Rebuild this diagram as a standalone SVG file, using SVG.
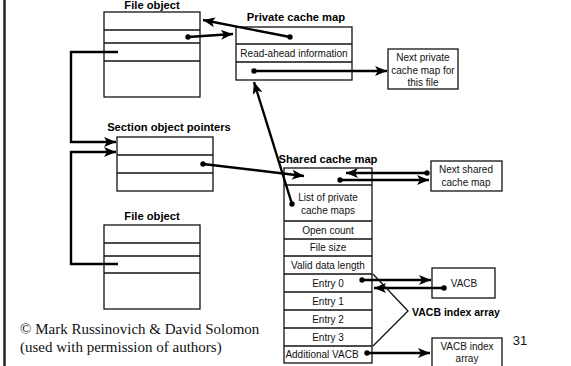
<svg xmlns="http://www.w3.org/2000/svg" width="571" height="366" viewBox="0 0 571 366">
<style>
.box{fill:#fff;stroke:#111;stroke-width:1.3}
.row{stroke:#111;stroke-width:1.3}
.title{font-family:"Liberation Sans",Arial,sans-serif;font-weight:bold;font-size:11.2px;fill:#000;text-anchor:middle}
.t{font-family:"Liberation Sans",Arial,sans-serif;font-size:10px;fill:#111;text-anchor:middle}
.lbl{font-family:"Liberation Sans",Arial,sans-serif;font-weight:bold;font-size:10.5px;fill:#000}
.ser{font-family:"Liberation Serif","Times New Roman",serif;font-size:15px;fill:#111}
.ca{fill:none;stroke:#000;stroke-width:2.4;marker-start:url(#dot);marker-end:url(#arr)}
.ce{fill:none;stroke:#000;stroke-width:2.4;marker-end:url(#arr)}
</style>
<defs>
<marker id="arr" markerUnits="userSpaceOnUse" markerWidth="14" markerHeight="10" refX="12" refY="5" orient="auto">
<path d="M0,0 L12,5 L0,10 L3,5 z" fill="#000"/>
</marker>
<marker id="dot" markerUnits="userSpaceOnUse" markerWidth="8" markerHeight="8" refX="4" refY="4">
<circle cx="4" cy="4" r="2.7" fill="#000"/>
</marker>
</defs>
<rect x="0" y="0" width="571" height="366" fill="#fff"/>
<line x1="4.5" y1="0" x2="4.5" y2="366" stroke="#222" stroke-width="2.5"/>

<g id="file-object-top">
<text class="title" x="152" y="9">File object</text>
<rect class="box" x="104" y="12" width="96" height="85"/>
<line class="row" x1="104" y1="30" x2="200" y2="30"/>
<line class="row" x1="104" y1="43" x2="200" y2="43"/>
<line class="row" x1="104" y1="61" x2="200" y2="61"/>
</g>

<g id="private-cache-map">
<text class="title" x="296" y="21">Private cache map</text>
<rect class="box" x="236" y="27" width="116" height="53"/>
<line class="row" x1="236" y1="44" x2="352" y2="44"/>
<line class="row" x1="236" y1="62" x2="352" y2="62"/>
<text class="t" x="294" y="57">Read-ahead information</text>
</g>

<g id="next-private">
<rect class="box" x="388" y="49" width="70" height="40"/>
<text class="t" x="423" y="61">Next private</text>
<text class="t" x="423" y="73.5">cache map for</text>
<text class="t" x="423" y="86">this file</text>
</g>

<g id="section-object-pointers">
<text class="title" x="169" y="131">Section object pointers</text>
<rect class="box" x="117" y="137" width="96" height="54"/>
<line class="row" x1="117" y1="155" x2="213" y2="155"/>
<line class="row" x1="117" y1="173" x2="213" y2="173"/>
</g>

<g id="file-object-bottom">
<text class="title" x="152" y="220">File object</text>
<rect class="box" x="104" y="225" width="96" height="84"/>
<line class="row" x1="104" y1="243" x2="200" y2="243"/>
<line class="row" x1="104" y1="256" x2="200" y2="256"/>
<line class="row" x1="104" y1="273" x2="200" y2="273"/>
</g>

<g id="shared-cache-map">
<text class="title" x="328" y="163">Shared cache map</text>
<rect class="box" x="284" y="168" width="88" height="195"/>
<line class="row" x1="284" y1="185" x2="372" y2="185"/>
<line class="row" x1="284" y1="221" x2="372" y2="221"/>
<line class="row" x1="284" y1="239" x2="372" y2="239"/>
<line class="row" x1="284" y1="256" x2="372" y2="256"/>
<line class="row" x1="284" y1="274" x2="372" y2="274"/>
<line class="row" x1="284" y1="292" x2="372" y2="292"/>
<line class="row" x1="284" y1="310" x2="372" y2="310"/>
<line class="row" x1="284" y1="328" x2="372" y2="328"/>
<line class="row" x1="284" y1="346" x2="372" y2="346"/>
<text class="t" x="328" y="201">List of private</text>
<text class="t" x="328" y="214">cache maps</text>
<text class="t" x="328" y="234">Open count</text>
<text class="t" x="328" y="251">File size</text>
<text class="t" x="328" y="269">Valid data length</text>
<text class="t" x="328" y="287">Entry 0</text>
<text class="t" x="328" y="305">Entry 1</text>
<text class="t" x="328" y="323">Entry 2</text>
<text class="t" x="328" y="341">Entry 3</text>
<text class="t" x="322" y="358">Additional VACB</text>
</g>

<g id="next-shared">
<rect class="box" x="431" y="161" width="71" height="30"/>
<text class="t" x="466" y="173">Next shared</text>
<text class="t" x="466" y="186">cache map</text>
</g>

<g id="vacb">
<rect class="box" x="432" y="268" width="63" height="30"/>
<text class="t" x="464" y="287">VACB</text>
</g>

<g id="vacb-index-array">
<rect class="box" x="432" y="338" width="70" height="30"/>
<text class="t" x="467" y="350">VACB index</text>
<text class="t" x="467" y="362">array</text>
</g>

<g id="connectors">
<line class="ca" x1="290" y1="37" x2="203" y2="20"/>
<line class="ca" x1="188" y1="37" x2="233" y2="34"/>
<line class="ca" x1="254" y1="71" x2="387" y2="71"/>
<line class="ca" x1="292" y1="204" x2="254" y2="82"/>
<line class="ca" x1="203" y1="164" x2="304" y2="176"/>
<line class="ca" x1="427" y1="173" x2="346" y2="173"/>
<line class="ca" x1="340" y1="180" x2="429" y2="180"/>
<line class="ca" x1="362" y1="280" x2="431" y2="280"/>
<line class="ca" x1="444" y1="288" x2="374" y2="288"/>
<line class="ca" x1="367" y1="353" x2="430" y2="353"/>
<polyline class="ce" points="118,52 71,52 71,142 116,142"/>
<polyline class="ce" points="118,264 71,264 71,152 116,152"/>
<polyline fill="none" stroke="#111" stroke-width="1.3" points="373,274 408,311 373,346"/>
</g>

<text class="lbl" x="412" y="316">VACB index array</text>
<text class="t" x="520" y="345" style="font-size:13px">31</text>
<text class="ser" x="20" y="334">© Mark Russinovich &amp; David Solomon</text>
<text class="ser" x="20" y="352">(used with permission of authors)</text>
</svg>
